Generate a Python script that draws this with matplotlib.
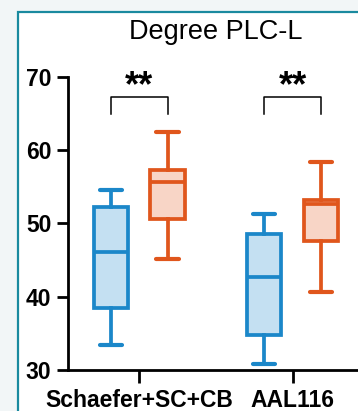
import matplotlib.pyplot as plt
from matplotlib import patches

plt.rcParams['font.family'] = ['Liberation Sans', 'DejaVu Sans']

# atlas groups and box statistics (whislo, q1, median, q3, whishi)
groups = ['Schaefer+SC+CB', 'AAL116']
blue_stats = [(33.4, 38.5, 46.1, 52.3, 54.6),
              (30.8, 34.8, 42.7, 48.6, 51.3)]
orange_stats = [(45.1, 50.6, 55.7, 57.3, 62.5),
                (40.7, 47.6, 52.7, 53.2, 58.4)]
sig_labels = ['**', '**']
yticks = [30, 40, 50, 60, 70]

blue = '#1b87c9'
blue_fill = '#c4e0f2'
orange = '#e0561c'
orange_fill = '#f8d5c6'

fig = plt.figure(figsize=(3.58, 4.11), dpi=100)
fig.patch.set_facecolor('#f2f6f7')

# white panel with teal border
W, H = 358.0, 411.0
panel = patches.Rectangle((18 / W, -0.1), 1.2, (H - 12) / H + 0.1,
                          transform=fig.transFigure, facecolor='white',
                          edgecolor='#1a8a9f', linewidth=1.6, zorder=-10)
fig.patches.append(panel)

ax = fig.add_axes([68 / W, 41 / H, 1 - 68 / W + 0.01, (370 - 77) / H])
ax.set_facecolor('none')


def to_dict(s, label):
    return dict(whislo=s[0], q1=s[1], med=s[2], q3=s[3], whishi=s[4],
                fliers=[], label=label)


off = 0.185
lw = 2.7
for i, (bs, os_) in enumerate(zip(blue_stats, orange_stats)):
    for s, pos, c, fc in [(bs, i - off, blue, blue_fill),
                          (os_, i + off, orange, orange_fill)]:
        ax.bxp([to_dict(s, '')], positions=[pos], widths=0.225,
               patch_artist=True, showfliers=False, capwidths=0.145,
               boxprops=dict(facecolor=fc, edgecolor=c, linewidth=lw),
               medianprops=dict(color=c, linewidth=lw),
               whiskerprops=dict(color=c, linewidth=lw),
               capprops=dict(color=c, linewidth=lw + 0.3,
                             solid_capstyle='round'))

# significance brackets
for i, lab in enumerate(sig_labels):
    x0, x1 = i - 0.186, i + 0.186
    ax.plot([x0, x0, x1, x1], [65.0, 67.3, 67.3, 65.0], color='black',
            linewidth=1.1, clip_on=False)
    ax.text(i, 67.4, lab, ha='center', va='baseline', fontsize=26,
            fontweight='bold', clip_on=False)

ax.set_xlim(-0.464, 1.45)
ax.set_ylim(30, 70)
ax.set_yticks(yticks)
ax.set_xticks([0, 1])
ax.set_xticklabels(groups)
for sp in ['top', 'right']:
    ax.spines[sp].set_visible(False)
for sp in ['left', 'bottom']:
    ax.spines[sp].set_linewidth(2)
ax.tick_params(axis='both', width=2, length=8, labelsize=16.5, pad=4)
ax.tick_params(axis='x', length=9, pad=5)
for t in ax.get_xticklabels() + ax.get_yticklabels():
    t.set_fontweight('bold')

fig.text(216 / W, 1 - 32 / H, 'Degree PLC-L', ha='center', va='center',
         fontsize=19.5)

fig.savefig('out.png', dpi=100, facecolor=fig.get_facecolor())
